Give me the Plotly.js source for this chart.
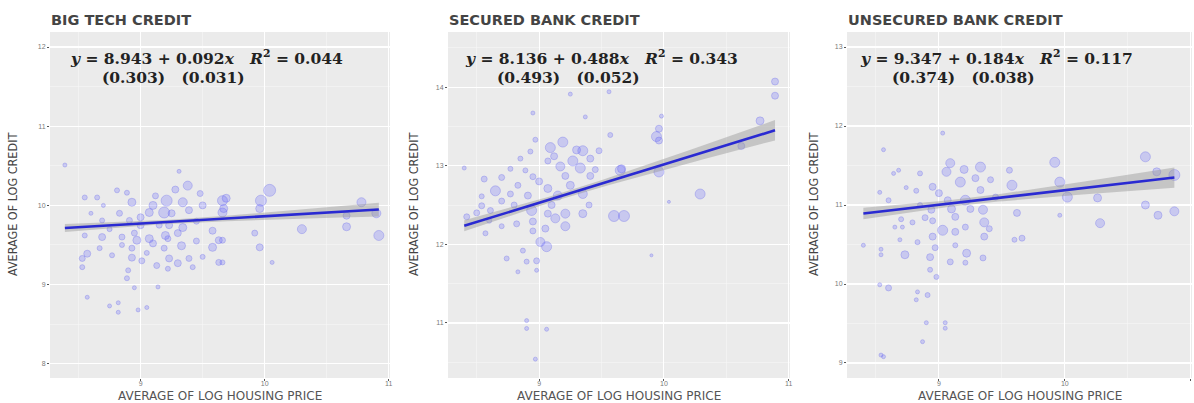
<!DOCTYPE html>
<html>
<head>
<meta charset="utf-8">
<script src="https://cdn.plot.ly/plotly-3.0.1.min.js"></script>
<style>html,body{margin:0;padding:0;background:#fff;}#chart{width:1194px;height:403px;}</style>
</head>
<body>
<div id="chart"></div>
<script>
// ---------- DATA ----------
const panelTitles = ['BIG TECH CREDIT', 'SECURED BANK CREDIT', 'UNSECURED BANK CREDIT'];
const xAxisTitle = 'AVERAGE OF LOG HOUSING PRICE';
const yAxisTitle = 'AVERAGE OF LOG CREDIT';

const intercepts = [8.943, 8.136, 9.347];
const slopes = [0.092, 0.488, 0.184];
const rSquared = ['0.044', '0.343', '0.117'];
const seIntercept = ['0.303', '0.493', '0.374'];
const seSlope = ['0.031', '0.052', '0.038'];

const xTickVals = [9, 10, 11];
const yTickVals1 = [8, 9, 10, 11, 12];
const yTickVals2 = [11, 12, 13, 14];
const yTickVals3 = [9, 10, 11, 12, 13];

const bigTechX = [8.39,9.31,9.38,8.55,8.65,8.81,8.89,8.93,8.83,9.21,9.34,9.19,9.07,9.39,9.66,9.66,8.69,8.91,9.23,9.34,9.58,8.55,8.69,8.85,8.97,9.07,9.10,9.22,9.33,9.63,9.58,8.57,8.67,8.77,8.93,8.93,9.01,9.19,9.23,9.30,9.39,9.42,9.13,9.22,9.63,8.53,8.53,8.90,8.89,8.95,9.14,8.57,8.75,8.82,8.82,8.98,9.05,10.04,9.97,9.96,9.69,9.67,9.92,9.96,10.06,9.66,9.66,10.30,10.78,10.66,10.66,10.90,10.92,9.00,9.10,9.15,9.25,9.45,9.50,8.75,8.95,9.05,9.30,9.45,9.50,8.85,8.60,8.70,9.12,9.28,9.48,9.00,9.20];
const bigTechY = [10.51,10.43,10.25,10.10,10.10,10.19,10.16,10.04,9.90,10.06,10.04,9.91,9.91,9.94,10.06,9.91,9.81,9.81,9.75,9.72,9.68,9.62,9.60,9.60,9.56,9.58,9.52,9.58,9.49,9.56,9.47,9.39,9.46,9.37,9.46,9.34,9.30,9.46,9.33,9.27,9.33,9.22,9.24,9.20,9.28,9.22,9.33,9.18,9.08,8.96,8.97,8.84,8.73,8.77,8.65,8.68,8.71,10.19,10.06,9.96,10.09,9.96,9.65,9.47,9.28,9.28,9.56,9.70,10.04,9.87,9.73,9.90,9.62,9.85,10.00,9.75,9.90,9.80,10.00,9.70,9.65,9.40,9.65,9.55,9.35,9.50,9.90,10.00,10.12,10.20,10.15,9.75,9.62];
const bigTechSize = [4,4,9,5,5,5,5,8,6,11,9,11,8,7,10,9,5,6,7,8,7,5,7,6,8,8,7,6,8,7,8,7,5,5,6,7,6,6,7,7,6,5,6,5,6,5,6,5,5,4,4,4,4,4,4,4,4,12,11,8,8,8,6,7,4,5,6,9,9,7,8,9,10,7,8,6,7,6,7,5,6,5,7,6,5,5,4,4,6,7,6,7,8];

const securedX = [9.25,9.56,8.95,9.37,9.57,8.97,9.19,9.09,9.35,9.48,8.93,8.85,9.07,9.27,9.41,9.17,9.33,8.40,8.77,8.89,8.70,8.56,8.95,9.21,9.41,8.65,8.83,9.07,8.77,8.54,8.91,9.15,9.35,9.65,8.54,8.61,8.94,9.07,9.21,9.35,8.42,8.82,8.95,9.13,9.21,9.60,9.68,8.70,8.57,8.95,9.01,9.06,8.87,8.74,8.90,8.98,8.83,8.98,8.90,8.90,9.06,8.97,10.89,10.89,10.77,10.62,9.98,9.96,9.94,9.96,9.96,10.29,10.04,9.90,9.66,9.00,9.25,9.10,8.80,9.30,9.45,9.12,8.70,9.05,8.60,8.50,9.40];
const securedY = [13.91,13.94,13.67,13.62,13.39,13.33,13.30,13.23,13.19,13.19,13.18,13.09,13.06,13.06,13.09,12.99,12.97,12.97,12.96,12.94,12.85,12.83,12.86,12.87,12.87,12.68,12.75,12.71,12.64,12.61,12.62,12.62,12.64,12.94,12.49,12.43,12.43,12.39,12.39,12.39,12.35,12.26,12.29,12.33,12.23,12.36,12.36,12.23,12.14,12.17,12.03,11.97,11.92,11.82,11.78,11.79,11.65,11.67,11.03,10.93,10.92,10.54,14.07,13.89,13.57,13.25,13.63,13.47,13.37,13.32,12.92,12.64,12.54,11.86,12.96,12.80,12.75,12.50,12.50,13.20,12.95,13.12,12.55,12.20,12.30,12.40,12.50];
const securedSize = [4,4,4,4,5,5,10,10,10,6,5,5,6,10,7,9,10,4,5,5,6,6,6,7,7,10,6,8,6,5,7,9,9,10,6,6,10,7,9,8,6,6,7,9,9,11,11,5,5,6,9,10,5,5,5,6,4,4,4,4,4,4,7,7,8,7,4,7,10,7,10,10,3,3,8,7,8,7,6,8,6,7,6,7,5,6,6];

const unsecuredX = [9.03,8.56,8.68,8.64,8.85,9.09,9.06,9.33,9.56,9.41,9.17,9.29,8.95,8.82,8.74,8.53,8.60,9.58,9.33,9.21,9.07,8.94,8.70,8.79,8.89,8.65,8.71,9.13,9.35,9.36,9.62,9.03,9.13,9.21,8.95,8.83,8.69,9.36,9.60,9.66,8.40,8.54,8.54,8.73,8.97,9.13,9.22,9.35,8.93,9.09,9.21,8.93,8.98,8.53,8.60,8.83,8.91,8.82,8.90,9.05,9.05,8.87,8.54,8.56,9.92,9.96,10.02,9.96,10.26,10.28,10.64,10.73,10.87,10.64,10.74,10.87,9.00,9.25,9.45,8.85,9.10,9.20,9.40,8.95];
const unsecuredY = [11.91,11.70,11.44,11.40,11.40,11.53,11.42,11.48,11.44,11.32,11.29,11.34,11.23,11.18,11.22,11.16,11.06,11.25,11.19,11.06,11.06,10.94,10.82,10.78,10.84,10.72,10.72,10.85,10.94,10.78,10.90,10.68,10.66,10.72,10.60,10.53,10.56,10.60,10.56,10.58,10.49,10.44,10.37,10.37,10.46,10.49,10.39,10.33,10.34,10.28,10.27,10.18,10.09,9.99,9.95,9.90,9.86,9.80,9.51,9.51,9.44,9.27,9.10,9.08,11.54,11.29,11.10,10.87,11.09,10.77,11.61,11.42,11.38,11.00,10.87,10.92,11.15,10.95,11.10,11.00,10.95,11.45,10.70,10.80];
const unsecuredSize = [4,4,4,4,5,9,9,10,6,6,10,7,7,5,4,4,5,10,7,10,7,7,5,5,6,4,4,7,9,9,7,10,7,6,7,5,4,7,5,6,4,4,4,8,6,5,8,6,7,6,5,5,5,4,6,4,5,4,4,4,4,4,4,4,10,10,10,4,8,9,10,8,11,8,8,9,7,7,6,5,8,8,6,6];

const xRange = [8.27, 11.01];
const yRanges = [[7.82, 12.19], [10.30, 14.70], [8.81, 13.19]];

// ---------- BUILD ----------
const panels = [
  {x: bigTechX, y: bigTechY, s: bigTechSize, ticks: yTickVals1},
  {x: securedX, y: securedY, s: securedSize, ticks: yTickVals2},
  {x: unsecuredX, y: unsecuredY, s: unsecuredSize, ticks: yTickVals3}
];
const domainsX = [[50/1194, 390/1194], [448/1194, 790/1194], [847/1194, 1192/1194]];
const domainY = [1 - 378/403, 1 - 32/403];
const bandScale = 0.6;

const traces = [];
const layout = {
  width: 1194, height: 403,
  margin: {l: 0, r: 0, t: 0, b: 0},
  paper_bgcolor: '#ffffff',
  plot_bgcolor: '#ebebeb',
  showlegend: false,
  font: {family: 'Liberation Sans, Arial, sans-serif', color: '#4d4d4d'},
  annotations: []
};

panels.forEach((p, i) => {
  const k = i === 0 ? '' : String(i + 1);
  const xa = 'x' + k, ya = 'y' + k;
  const a = intercepts[i], b = slopes[i];

  traces.push({
    type: 'scatter', mode: 'markers', x: p.x, y: p.y, xaxis: xa, yaxis: ya,
    marker: {size: p.s, color: 'rgba(100,100,255,0.36)', line: {color: 'rgba(85,85,235,0.42)', width: 1}},
    hoverinfo: 'skip'
  });

  // confidence band computed from the data around the reported line
  const n = p.x.length;
  const xbar = p.x.reduce((s, v) => s + v, 0) / n;
  const sxx = p.x.reduce((s, v) => s + (v - xbar) * (v - xbar), 0);
  const sse = p.x.reduce((s, v, j) => { const r = p.y[j] - (a + b * v); return s + r * r; }, 0);
  const sd = Math.sqrt(sse / (n - 2));
  const xmin = Math.min(...p.x), xmax = Math.max(...p.x);
  const gx = [], lo = [], hi = [], fit = [];
  for (let j = 0; j <= 60; j++) {
    const xv = xmin + (xmax - xmin) * j / 60;
    const se = bandScale * sd * Math.sqrt(1 / n + (xv - xbar) * (xv - xbar) / sxx);
    const yv = a + b * xv;
    gx.push(xv); fit.push(yv); lo.push(yv - se); hi.push(yv + se);
  }
  traces.push({type: 'scatter', mode: 'lines', x: gx, y: lo, xaxis: xa, yaxis: ya,
    line: {width: 0, color: 'rgba(0,0,0,0)'}, hoverinfo: 'skip'});
  traces.push({type: 'scatter', mode: 'lines', x: gx, y: hi, xaxis: xa, yaxis: ya, fill: 'tonexty',
    fillcolor: 'rgba(150,150,150,0.45)', line: {width: 0, color: 'rgba(0,0,0,0)'}, hoverinfo: 'skip'});
  traces.push({type: 'scatter', mode: 'lines', x: gx, y: fit, xaxis: xa, yaxis: ya,
    line: {width: 2.6, color: '#2a2ad2'}, hoverinfo: 'skip'});

  const axCommon = {
    showgrid: true, gridcolor: '#ffffff', gridwidth: 1.1,
    zeroline: false, showline: false,
    ticks: 'outside', ticklen: 2, tickcolor: '#555', tickwidth: 1,
    tickfont: {size: 7, color: '#7a7a7a', family: 'Liberation Sans, Arial, sans-serif'},
    minor: {showgrid: true, gridcolor: '#f7f7f7', gridwidth: 0.6, ticks: ''},
    fixedrange: true
  };
  layout['xaxis' + k] = Object.assign({}, axCommon, {
    domain: domainsX[i], range: xRange, anchor: ya,
    tickmode: 'array', tickvals: xTickVals, ticktext: xTickVals.map(String),
    ticklabelstandoff: -3,
    minor: Object.assign({}, axCommon.minor, {tickmode: 'array', tickvals: [8.5, 9.5, 10.5]})
  });
  const minorY = p.ticks.slice(0, -1).map(v => v + 0.5).concat([p.ticks[0] - 0.5, p.ticks[p.ticks.length - 1] + 0.5]);
  layout['yaxis' + k] = Object.assign({}, axCommon, {
    domain: domainY, range: yRanges[i], anchor: xa,
    tickmode: 'array', tickvals: p.ticks, ticktext: p.ticks.map(String),
    minor: Object.assign({}, axCommon.minor, {tickmode: 'array', tickvals: minorY})
  });

  // panel title
  layout.annotations.push({
    text: panelTitles[i], xref: xa + ' domain', yref: 'paper', x: 0, y: 1 - 20 / 403,
    xanchor: 'left', yanchor: 'middle', showarrow: false, xshift: -1,
    font: {family: 'DejaVu Sans, Liberation Sans, sans-serif', size: 14.5, color: '#444', weight: 'bold'}
  });
  // equation lines
  const eqShift1 = [18, 15, 11][i];
  const eqShift2 = [50, 47, 43][i];
  layout.annotations.push({
    text: '<i>y</i> = ' + a.toFixed(3) + ' + ' + b.toFixed(3) + '<i>x</i>   <i>R</i><sup>2</sup> = ' + rSquared[i],
    xref: xa + ' domain', yref: ya + ' domain', x: 0, y: 1, xanchor: 'left', yanchor: 'middle',
    xshift: eqShift1, yshift: -26, showarrow: false,
    font: {family: 'DejaVu Serif, Liberation Serif, serif', size: 15.5, color: '#222', weight: 'bold'}
  });
  layout.annotations.push({
    text: '(' + seIntercept[i] + ')   (' + seSlope[i] + ')',
    xref: xa + ' domain', yref: ya + ' domain', x: 0, y: 1, xanchor: 'left', yanchor: 'middle',
    xshift: eqShift2, yshift: -46, showarrow: false,
    font: {family: 'DejaVu Serif, Liberation Serif, serif', size: 15.5, color: '#222', weight: 'bold'}
  });
  // x axis title
  layout.annotations.push({
    text: xAxisTitle, xref: xa + ' domain', yref: 'paper', x: 0.5, y: 1 - 395.5 / 403,
    xanchor: 'center', yanchor: 'middle', showarrow: false,
    font: {family: 'DejaVu Sans, Liberation Sans, sans-serif', size: 12, color: '#555'}
  });
  // y axis title
  const yTitleX = [12, 413, 813][i];
  layout.annotations.push({
    text: yAxisTitle, xref: 'paper', yref: ya + ' domain', x: yTitleX / 1194, y: 0.5,
    xanchor: 'center', yanchor: 'middle', textangle: -90, showarrow: false,
    font: {family: 'Liberation Sans Narrow, DejaVu Sans Condensed, Arial Narrow, sans-serif', size: 12.5, color: '#444'}
  });
});

Plotly.newPlot('chart', traces, layout, {displayModeBar: false, staticPlot: true});
</script>
</body>
</html>
